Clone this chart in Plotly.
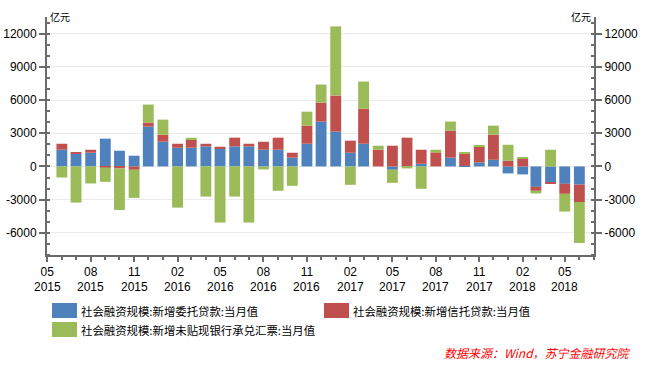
import plotly.graph_objects as go

# ---------------- data ----------------
months = ["2015-06", "2015-07", "2015-08", "2015-09", "2015-10", "2015-11", "2015-12",
          "2016-01", "2016-02", "2016-03", "2016-04", "2016-05", "2016-06", "2016-07",
          "2016-08", "2016-09", "2016-10", "2016-11", "2016-12", "2017-01", "2017-02",
          "2017-03", "2017-04", "2017-05", "2017-06", "2017-07", "2017-08", "2017-09",
          "2017-10", "2017-11", "2017-12", "2018-01", "2018-02", "2018-03", "2018-04",
          "2018-05", "2018-06"]

entrusted = [1510, 1150, 1240, 2510, 1420, 970, 3600,
             2240, 1690, 1690, 1810, 1630, 1810, 1810,
             1510, 1510, 790, 2050, 4050, 3140, 1240,
             2050, 0, -300, 0, 240, 0, 790,
             60, 360, 600, -630, -720, -1840, -1450,
             -1570, -1640]

trust = [540, 90, 270, -90, -180, -300, 360,
         630, 360, 720, 240, 150, 790, 240,
         720, 1090, 450, 1630, 1720, 3260, 1090,
         3170, 1510, 1870, 2600, 1270, 1270, 2450,
         1090, 1450, 2270, 510, 720, -360, -120,
         -905, -1570]

bills = [-1000, -3260, -1540, -1300, -3750, -2540, 1630,
         1360, -3720, 180, -2720, -5070, -2720, -5070,
         -270, -2200, -1750, 1270, 1630, 6250, -1660,
         2450, 360, -1180, -180, -2020, 240, 815,
         90, 60, 815, 1450, 60, -240, 1510,
         -1600, -3700]

series_names = ["社会融资规模:新增委托贷款:当月值",
                "社会融资规模:新增信托贷款:当月值",
                "社会融资规模:新增未贴现银行承兑汇票:当月值"]

tick_dates = ["2015-05", "2015-08", "2015-11", "2016-02", "2016-05", "2016-08", "2016-11",
              "2017-02", "2017-05", "2017-08", "2017-11", "2018-02", "2018-05"]
tick_months = ["05", "08", "11", "02", "05", "08", "11", "02", "05", "08", "11", "02", "05"]
tick_years = ["2015", "2015", "2015", "2016", "2016", "2016", "2016",
              "2017", "2017", "2017", "2017", "2018", "2018"]

y_tickvals = [-6000, -3000, 0, 3000, 6000, 9000, 12000]
y_ticktext = ["-6000", "-3000", "0", "3000", "6000", "9000", "12000"]

unit_label = "亿元"
source_text = "数据来源：Wind，苏宁金融研究院"

# ---------------- style ----------------
colors = ["#4F81BD", "#C0504D", "#9BBB59"]
W, H = 648, 366
L, R, T, B = 47, 54, 17, 111
AXC = "#6b6b6b"
NUM_FONT = "Arial, Liberation Sans, sans-serif"
CJK_FONT = "Noto Sans CJK SC, sans-serif"
DAY_MS = 86400000

pw, ph = W - L - R, H - T - B


def px_x(p):
    return (p - L) / pw


def px_y(p):
    return (H - B - p) / ph


fig = go.Figure()
for name, vals, col in zip(series_names, [entrusted, trust, bills], colors):
    fig.add_trace(go.Bar(x=months, y=vals, name=name, marker_color=col,
                         marker_line_width=0, width=23 * DAY_MS, showlegend=False))

# invisible helper trace so the right-hand axis is drawn
fig.add_trace(go.Scatter(x=[months[0]], y=[0], yaxis="y2", mode="markers",
                         marker_opacity=0, showlegend=False, hoverinfo="skip"))

yaxis_common = dict(
    range=[-8000, 13500], tickmode="array", tickvals=y_tickvals, ticktext=y_ticktext,
    ticks="outside", ticklen=6, tickwidth=2, tickcolor=AXC,
    showline=True, linewidth=2, linecolor=AXC, zeroline=False, automargin=False,
    tickfont=dict(family=NUM_FONT, size=12, color="#000"),
    minor=dict(ticks="inside", ticklen=3, tickwidth=1.5, tickcolor=AXC,
               dtick=1000, tick0=0, showgrid=False),
)

fig.update_layout(
    width=W, height=H, margin=dict(l=L, r=R, t=T, b=B, autoexpand=False),
    paper_bgcolor="white", plot_bgcolor="white",
    barmode="relative", bargap=0.2,
    showlegend=False,
    xaxis=dict(
        type="date", range=["2015-04-30 12:00", "2018-07-02"],
        tickmode="array", tickvals=tick_dates, ticktext=tick_months,
        ticks="outside", ticklen=5, tickwidth=2, tickcolor=AXC, automargin=False,
        showline=True, linewidth=2, linecolor=AXC, showgrid=False, zeroline=False,
        tickfont=dict(family=NUM_FONT, size=12, color="#000"),
        minor=dict(ticks="outside", ticklen=3, tickwidth=1.5, tickcolor=AXC,
                   dtick="M1", tick0="2015-05-01", showgrid=False),
    ),
    yaxis=dict(**yaxis_common, showgrid=True, gridcolor="#ebebeb", gridwidth=1),
    yaxis2=dict(**yaxis_common, overlaying="y", side="right", showgrid=False),
)

annotations = []
# unit labels
annotations.append(dict(text=unit_label, xref="paper", yref="paper", x=0, y=1,
                        xanchor="left", yanchor="middle", xshift=1, yshift=1,
                        showarrow=False, font=dict(family=CJK_FONT, size=10, color="#000")))
annotations.append(dict(text=unit_label, xref="paper", yref="paper", x=1, y=1,
                        xanchor="right", yanchor="middle", xshift=-1, yshift=1,
                        showarrow=False, font=dict(family=CJK_FONT, size=10, color="#000")))
# year row of x tick labels
for d, yr in zip(tick_dates, tick_years):
    annotations.append(dict(text=yr, xref="x", yref="paper", x=d, y=0,
                            xanchor="center", yanchor="middle", yshift=-31.5,
                            showarrow=False, font=dict(family=NUM_FONT, size=12, color="#000")))

# custom legend (large swatches like the original)
legend_pos = [(52, 303, 79, 311), (324, 303, 351, 311), (52, 322, 79, 330)]
shapes = []
for (sx, sy, tx, ty), name, col in zip(legend_pos, series_names, colors):
    shapes.append(dict(type="rect", xref="paper", yref="paper",
                       x0=px_x(sx), x1=px_x(sx + 25), y0=px_y(sy), y1=px_y(sy + 15),
                       fillcolor=col, line=dict(width=0)))
    annotations.append(dict(text=name, xref="paper", yref="paper", x=px_x(tx), y=px_y(ty),
                            xanchor="left", yanchor="middle", showarrow=False,
                            font=dict(family=CJK_FONT, size=11.4, color="#000")))

annotations.append(dict(text="<i>" + source_text + "</i>", xref="paper", yref="paper",
                        x=px_x(633), y=px_y(352.5), xanchor="right", yanchor="middle",
                        showarrow=False, font=dict(family=CJK_FONT, size=12, color="#FF0000")))

fig.update_layout(annotations=annotations, shapes=shapes)

fig.write_html("out.html", config={"displayModeBar": False},
               post_script="document.body.style.margin='0';document.body.style.overflow='hidden';")
